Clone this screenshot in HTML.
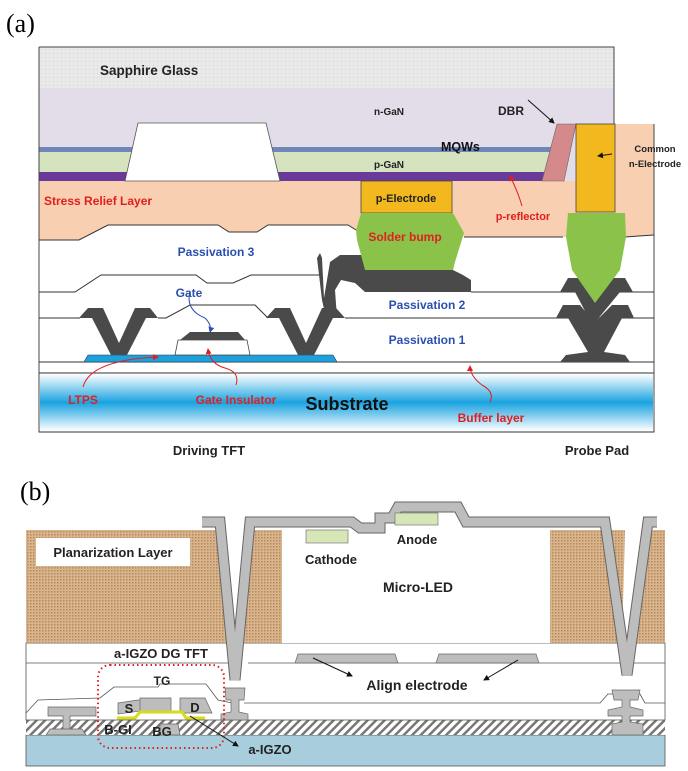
<!DOCTYPE html>
<html><head><meta charset="utf-8"><style>
html,body{margin:0;padding:0;background:#fff;}
svg{display:block;}
text{font-family:"Liberation Sans",sans-serif;font-weight:bold;}
</style></head><body>
<svg width="688" height="771" viewBox="0 0 688 771" xmlns="http://www.w3.org/2000/svg">
<defs>
<linearGradient id="sub" x1="0" y1="0" x2="0" y2="1">
<stop offset="0" stop-color="#ffffff"/><stop offset="0.5" stop-color="#1aa3e0"/><stop offset="1" stop-color="#ffffff"/>
</linearGradient>
<pattern id="dots" width="3" height="3" patternUnits="userSpaceOnUse">
<rect width="3" height="3" fill="#d9b48c"/><rect width="1.5" height="1.5" fill="#b48a5e"/>
</pattern>
<pattern id="hatch" width="6" height="6" patternUnits="userSpaceOnUse" patternTransform="rotate(45)">
<rect width="6" height="6" fill="#fff"/><rect width="2.5" height="6" fill="#777"/>
</pattern>
<pattern id="sand" width="4" height="4" patternUnits="userSpaceOnUse">
<rect width="4" height="4" fill="#e9e9e9"/><rect x="1" y="1" width="1" height="1" fill="#d3d3d3"/>
</pattern>
<marker id="ak" markerWidth="6" markerHeight="6" refX="5" refY="3" orient="auto"><path d="M0,0 L6,3 L0,6z" fill="#111"/></marker>
<marker id="ar" markerWidth="6" markerHeight="6" refX="5" refY="3" orient="auto"><path d="M0,0 L6,3 L0,6z" fill="#e02020"/></marker>
<marker id="ab" markerWidth="6" markerHeight="6" refX="5" refY="3" orient="auto"><path d="M0,0 L6,3 L0,6z" fill="#2a4fb0"/></marker>
</defs>

<!-- (a) -->
<text x="6" y="32" font-size="26" style="font-family:'Liberation Serif',serif;font-weight:normal">(a)</text>

<rect x="39" y="181" width="615" height="251" fill="#fff"/>
<polygon points="39,181 576,181 576,124 654,124 654,235 625,237 563,237 464,237 453,213 361,213 356,230 348,225 268,225 257,232 229,232 218,225 108,225 79,240 39,240" fill="#f8cfb0"/>
<rect x="39" y="47" width="575" height="41" fill="url(#sand)"/>
<rect x="39" y="88" width="575" height="93" fill="#e3dde9"/>
<rect x="39" y="147" width="515" height="5" fill="#6f86b8"/>
<rect x="39" y="152" width="510" height="20" fill="#d6e3bf"/>
<polygon points="39,172 546,172 543,181 39,181" fill="#6a3a9a"/>
<polygon points="138,123 266,123 280,181 125,181" fill="#fff" stroke="#555" stroke-width="0.8"/>
<polygon points="557,124 576,124 564,181 542,181" fill="#d4898b" stroke="#666" stroke-width="0.6"/>
<rect x="576" y="124" width="39" height="88" fill="#f3b81d" stroke="#444" stroke-width="0.8"/>
<rect x="361" y="181" width="91" height="32" fill="#f3b81d" stroke="#444" stroke-width="0.8"/>

<g fill="none" stroke="#333" stroke-width="1">
<polyline points="39,240 79,240 108,225 218,225 229,232 257,232 268,225 348,225 356,230"/>
<polyline points="464,237 563,237"/><polyline points="625,237 654,235"/>
<polyline points="39,292 75,292 101,275 196,275 207,283 233,283 251,275 320,275"/>
<polyline points="471,292 654,292"/>
<polyline points="39,318 80,318"/><polyline points="158,318 166,318 190,305 255,305 268,318"/><polyline points="345,318 654,318"/>
<line x1="39" y1="362" x2="654" y2="362"/>
<line x1="39" y1="373" x2="654" y2="373"/>
<path d="M39,47 H614 V124 M654,124 V432 H39 V47" stroke="#444"/>
</g>
<rect x="40" y="374" width="613" height="57" fill="url(#sub)"/>
<line x1="39" y1="432" x2="654" y2="432" stroke="#333"/>

<polygon points="88,355 333,355 337,362 84,362" fill="#1ea0dc" stroke="#234" stroke-width="0.6"/>
<polygon points="178,340 247,340 250,355 175,355" fill="#fff" stroke="#444" stroke-width="0.8"/>
<polygon points="190,332 238,332 245,340 180,340" fill="#4a4a4a"/>
<g fill="#4a4a4a">
<polygon points="79,318 88,308 103,308 119,343 135,308 150,308 158,318 146,318 127,355 111,355 92,318"/>
<polygon points="266,318 275,308 290,308 306,343 322,308 336,308 345,318 333,318 314,355 298,355 279,318"/>
<polygon points="317,258 320,253 322,258 324,298 330,262 340,255 365,255 365,270 453,270 463,275 471,280 471,292 365,292 355,283 341,280 335,290 337,318 326,318 322,300"/>
<polygon points="560,292 568,278 625,278 633,292 620,292 597,320 612,305 628,305 634,318 622,318 604,352 625,355 630,362 560,362 566,355 588,352 568,318 556,318 563,305 580,305 585,311 575,292"/>
</g>
<polygon points="361,213 453,213 464,233 455,262 453,270 365,270 357,240 356,230" fill="#8bc34a"/>
<polygon points="568,213 625,213 626,237 620,270 595,303 572,270 566,237" fill="#8bc34a"/>

<path d="M528,100 L554,123" stroke="#111" fill="none" marker-end="url(#ak)"/>
<path d="M612,154 L598,156" stroke="#111" fill="none" marker-end="url(#ak)"/>
<path d="M522,206 Q518,192 510,176" stroke="#e02020" fill="none" marker-end="url(#ar)"/>
<path d="M190,291 Q185,310 205,318 Q212,325 210,332" stroke="#2a4fb0" fill="none" marker-end="url(#ab)"/>
<path d="M83,387 Q90,360 158,357" stroke="#e02020" fill="none" marker-end="url(#ar)"/>
<path d="M236,385 Q240,372 225,368 Q210,364 208,349" stroke="#e02020" fill="none" marker-end="url(#ar)"/>
<path d="M490,402 Q495,392 482,385 Q470,376 470,366" stroke="#e02020" fill="none" marker-end="url(#ar)"/>

<g font-size="12">
<text x="100" y="75" font-size="13.5" fill="#222">Sapphire Glass</text>
<text x="374" y="115" font-size="10" fill="#222">n-GaN</text>
<text x="498" y="115" font-size="12" fill="#222">DBR</text>
<text x="441" y="151" font-size="12.5" fill="#111">MQWs</text>
<text x="374" y="168" font-size="10" fill="#222">p-GaN</text>
<text x="655" y="152" font-size="9.5" fill="#222" text-anchor="middle">Common</text>
<text x="655" y="167" font-size="9.5" fill="#222" text-anchor="middle">n-Electrode</text>
<text x="44" y="205" fill="#e02020">Stress Relief Layer</text>
<text x="406" y="202" font-size="11" fill="#222" text-anchor="middle">p-Electrode</text>
<text x="523" y="220" font-size="11" fill="#e02020" text-anchor="middle">p-reflector</text>
<text x="405" y="241" fill="#e02020" text-anchor="middle">Solder bump</text>
<text x="216" y="256" fill="#2a4fb0" text-anchor="middle">Passivation 3</text>
<text x="189" y="297" fill="#2a4fb0" text-anchor="middle">Gate</text>
<text x="427" y="309" fill="#2a4fb0" text-anchor="middle">Passivation 2</text>
<text x="427" y="344" fill="#2a4fb0" text-anchor="middle">Passivation 1</text>
<text x="83" y="404" fill="#e02020" text-anchor="middle">LTPS</text>
<text x="236" y="404" fill="#e02020" text-anchor="middle">Gate Insulator</text>
<text x="347" y="410" font-size="18" fill="#111" text-anchor="middle">Substrate</text>
<text x="491" y="422" fill="#e02020" text-anchor="middle">Buffer layer</text>
<text x="209" y="455" font-size="13" fill="#222" text-anchor="middle">Driving TFT</text>
<text x="597" y="455" font-size="13" fill="#222" text-anchor="middle">Probe Pad</text>
</g>

<!-- (b) -->
<text x="20" y="500" font-size="26" style="font-family:'Liberation Serif',serif;font-weight:normal">(b)</text>
<rect x="26" y="735" width="639" height="31" fill="#a8cedd" stroke="#555" stroke-width="0.8"/>
<rect x="26" y="720" width="639" height="15" fill="url(#hatch)"/>
<rect x="26" y="643" width="639" height="77" fill="#fff" stroke="#555" stroke-width="0.8"/>
<g fill="none" stroke="#555" stroke-width="0.8">
<line x1="26" y1="663" x2="232" y2="663"/><line x1="248" y1="663" x2="665" y2="663"/>
<polyline points="26,713 38,700 100,698 114,687 158,687 160,684 206,684 218,700 232,703"/>
<polyline points="244,703 600,703 608,694 640,694 645,703 665,703"/>
</g>
<polygon points="26,530 218,530 226,643 26,643" fill="url(#dots)"/>
<polygon points="246,530 282,530 282,643 244,643" fill="url(#dots)"/>
<polygon points="550,530 625,530 622,643 550,643" fill="url(#dots)"/>
<polygon points="645,530 665,530 665,643 636,643" fill="url(#dots)"/>
<rect x="282" y="530" width="268" height="113" fill="#fff"/>

<g fill="none" stroke-linejoin="miter">
<polyline points="202,522 220,522 235,680 250,522 352,522 360,528 380,528 380,518 392,518 398,507 458,507 466,522 605,522 627,675 648,522 657,522" stroke="#666" stroke-width="11"/>
<polyline points="202,522 220,522 235,680 250,522 352,522 360,528 380,528 380,518 392,518 398,507 458,507 466,522 605,522 627,675 648,522 657,522" stroke="#bdbdbd" stroke-width="9"/>
</g>
<g fill="#bdbdbd" stroke="#666" stroke-width="0.7">
<polygon points="225,688 245,688 244,700 239,700 239,712 248,714 248,720 221,720 221,714 231,712 231,700 226,700"/>
<polygon points="612,690 640,690 638,700 630,700 630,707 643,710 643,716 630,716 630,722 643,724 643,735 612,735 612,724 622,722 622,716 608,716 608,710 622,707 622,700 614,700"/>
<polygon points="298,654 395,654 398,663 295,663"/>
<polygon points="439,654 536,654 539,663 436,663"/>
<polygon points="48,707 96,707 96,716 70,716 70,735 63,735 63,716 48,716"/>
<polygon points="50,729 82,729 86,735 46,735"/>
<polygon points="118,703 138,700 148,700 148,710 118,714"/>
<polygon points="140,698 171,698 171,713 140,713"/>
<polygon points="180,698 205,698 212,713 180,713"/>
<polygon points="160,724 178,724 180,735 160,735"/>
</g>
<rect x="306" y="530" width="42" height="13" fill="#d7e6b6" stroke="#666" stroke-width="0.6"/>
<rect x="395" y="513" width="43" height="12" fill="#d7e6b6" stroke="#666" stroke-width="0.6"/>
<polyline points="117,718 135,718 140,712 182,712 186,718 205,718" fill="none" stroke="#d7dc1a" stroke-width="3"/>
<rect x="98" y="665" width="126" height="83" rx="12" fill="none" stroke="#e02020" stroke-width="2" stroke-dasharray="1.5 3"/>
<path d="M190,716 L238,746" stroke="#111" fill="none" marker-end="url(#ak)"/>
<path d="M313,658 L352,676" stroke="#111" fill="none" marker-end="url(#ak)"/>
<path d="M518,660 L484,680" stroke="#111" fill="none" marker-end="url(#ak)"/>
<rect x="36" y="538" width="154" height="28" fill="#fff"/>
<g font-size="13" fill="#222">
<text x="113" y="557" text-anchor="middle">Planarization Layer</text>
<text x="331" y="564" text-anchor="middle">Cathode</text>
<text x="417" y="544" text-anchor="middle">Anode</text>
<text x="418" y="592" font-size="14" text-anchor="middle">Micro-LED</text>
<text x="161" y="658" text-anchor="middle">a-IGZO DG TFT</text>
<text x="162" y="685" font-size="12" text-anchor="middle">TG</text>
<text x="129" y="713" text-anchor="middle">S</text>
<text x="195" y="712" text-anchor="middle">D</text>
<text x="118" y="734" text-anchor="middle">B-GI</text>
<text x="162" y="736" text-anchor="middle">BG</text>
<text x="270" y="754" text-anchor="middle">a-IGZO</text>
<text x="417" y="690" font-size="14" text-anchor="middle">Align electrode</text>
</g>
</svg>
</body></html>
